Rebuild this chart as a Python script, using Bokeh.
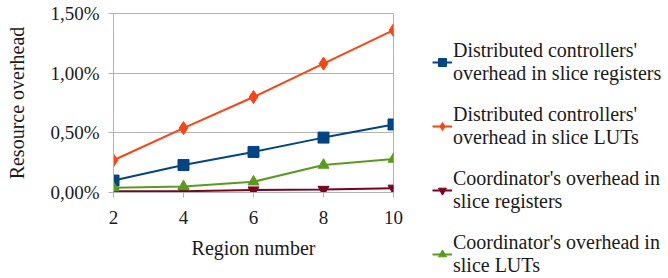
from bokeh.plotting import figure
from bokeh.models import Legend, LegendItem, FixedTicker
from bokeh.embed import file_html
from bokeh.resources import INLINE

regions = [2, 4, 6, 8, 10]
dist_regs = [0.10, 0.23, 0.34, 0.46, 0.57]
dist_luts = [0.27, 0.54, 0.80, 1.08, 1.36]
coord_regs = [0.01, 0.01, 0.02, 0.025, 0.035]
coord_luts = [0.04, 0.05, 0.09, 0.23, 0.28]

y_ticks = [0, 0.5, 1.0, 1.5]
y_tick_labels = ["0,00%", "0,50%", "1,00%", "1,50%"]
x_ticks = [2, 4, 6, 8, 10]

series_names = [
    "Distributed controllers'\noverhead in slice registers",
    "Distributed controllers'\noverhead in slice LUTs",
    "Coordinator's overhead in\nslice registers",
    "Coordinator's overhead in\nslice LUTs",
]

FONT = "Liberation Serif"
TXT = "#1a1a1a"

p = figure(width=668, height=278, output_backend="svg", toolbar_location=None,
           x_range=(2, 10), y_range=(0, 1.5),
           frame_width=280, frame_height=179,
           min_border_left=113, min_border_right=275, min_border_top=13, min_border_bottom=86)
p.background_fill_color = "white"
p.border_fill_color = "white"
p.outline_line_color = "#b3b3b3"

p.xgrid.grid_line_color = None
p.ygrid.grid_line_color = "#b3b3b3"
p.ygrid.ticker = FixedTicker(ticks=y_ticks)

p.yaxis.ticker = FixedTicker(ticks=y_ticks)
p.yaxis.major_label_overrides = {t: l for t, l in zip(y_ticks, y_tick_labels)}
p.xaxis.ticker = FixedTicker(ticks=x_ticks)

for ax in (p.xaxis, p.yaxis):
    ax.axis_line_color = "#b3b3b3"
    ax.major_tick_line_color = "#b3b3b3"
    ax.minor_tick_line_color = None
    ax.major_tick_in = 0
    ax.major_tick_out = 5
    ax.major_label_text_font = FONT
    ax.major_label_text_font_size = "19px"
    ax.major_label_text_color = TXT
    ax.axis_label_text_font = FONT
    ax.axis_label_text_font_size = "20px"
    ax.axis_label_text_font_style = "normal"
    ax.axis_label_text_color = TXT

p.xaxis.axis_label = "Region number"
p.yaxis.axis_label = "Resource overhead"
p.xaxis.major_label_standoff = 13
p.xaxis.axis_label_standoff = 10
p.yaxis.major_label_standoff = 9
p.yaxis.axis_label_standoff = 19

colors = ["#004586", "#ff420e", "#7e0021", "#579d1c"]
markers = ["square", "diamond", "inverted_triangle", "triangle"]
sizes = [11, 13, 11, 11]
data = [dist_regs, dist_luts, coord_regs, coord_luts]

items = []
for name, ys, c, m, s in zip(series_names, data, colors, markers, sizes):
    l = p.line(regions, ys, line_color=c, line_width=2)
    r = p.scatter(regions, ys, marker=m, size=s, fill_color=c, line_color=c)
    items.append(LegendItem(label=name, renderers=[l, r]))

legend = Legend(items=items, location=(39, -85))
legend.border_line_color = None
legend.background_fill_alpha = 0
legend.label_text_font = FONT
legend.label_text_font_size = "20px"
legend.label_text_color = TXT
legend.label_text_line_height = 1.3
legend.glyph_width = 20
legend.glyph_height = 20
legend.label_standoff = 1
legend.padding = 0
legend.margin = 0
legend.spacing = 18
p.add_layout(legend, "right")

open("out.html", "w").write(file_html(p, INLINE))
